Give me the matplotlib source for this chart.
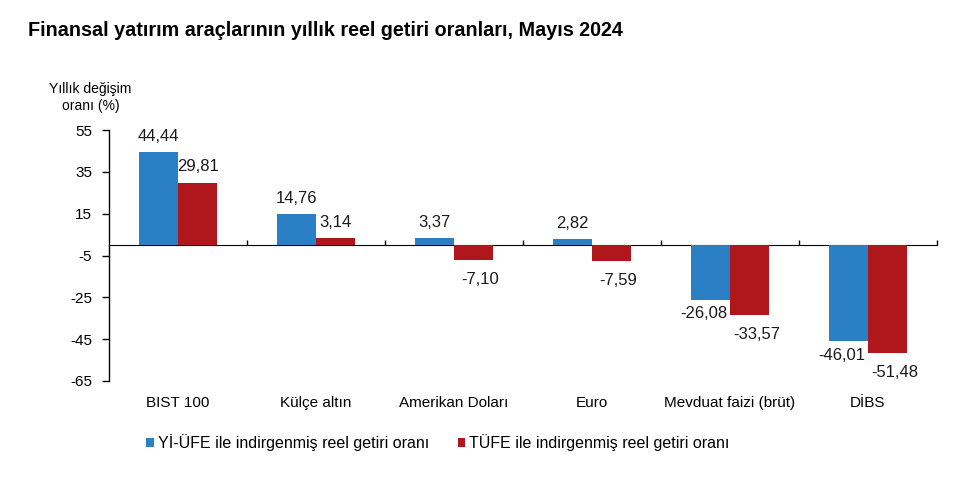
import matplotlib.pyplot as plt
import numpy as np

plt.rcParams['font.family'] = ['Liberation Sans', 'DejaVu Sans']

categories = ['BIST 100', 'Külçe altın', 'Amerikan Doları', 'Euro',
              'Mevduat faizi (brüt)', 'DİBS']
yi_ufe = [44.44, 14.76, 3.37, 2.82, -26.08, -46.01]
tufe = [29.81, 3.14, -7.10, -7.59, -33.57, -51.48]
yticks = [55, 35, 15, -5, -25, -45, -65]

blue = '#2b80c5'
red = '#b0171c'
ymin, ymax = -65, 55

fig = plt.figure(figsize=(9.72, 5.0), dpi=100)
ax = fig.add_axes([0.112, 0.238, 0.852, 0.502])

x = np.arange(len(categories))
w = 0.285
ax.bar(x - w / 2, yi_ufe, w, color=blue, label='Yİ-ÜFE ile indirgenmiş reel getiri oranı')
ax.bar(x + w / 2, tufe, w, color=red, label='TÜFE ile indirgenmiş reel getiri oranı')

def fmt(v):
    return '{:.2f}'.format(v).replace('.', ',')

# value labels: above positive bars, below negative bars (nudged outward)
for side, xs, vals in [(-1, x - w / 2, yi_ufe), (1, x + w / 2, tufe)]:
    for xi, v in zip(xs, vals):
        if v >= 0:
            off = (0, 11.5)
        else:
            off = (side * 5, -10 if side < 0 else -14)
        ax.annotate(fmt(v), (xi, v), xytext=off, textcoords='offset points',
                    ha='center', va='center', fontsize=12, color='#1a1a1a')

ax.set_xlim(-0.5, len(categories) - 0.5)
ax.set_ylim(ymin, ymax)
ax.set_yticks(yticks)
ax.set_yticklabels([str(t) for t in yticks], fontsize=11)
ax.set_xticks(x)
ax.set_xticklabels(categories, fontsize=11)
ax.tick_params(axis='x', length=0, pad=11)
ax.tick_params(axis='y', direction='out', length=5, width=1, pad=7)
for s in ['top', 'right', 'bottom']:
    ax.spines[s].set_visible(False)
ax.spines['left'].set_linewidth(1)

# zero line with small ticks between categories
zero = ax.secondary_xaxis((0 - ymin) / (ymax - ymin))
zero.set_xticks(np.arange(len(categories)) + 0.5)
zero.set_xticklabels([])
zero.tick_params(direction='out', length=3.5, width=1)
zero.spines['bottom'].set_linewidth(1)

fig.text(0.029, 0.94, 'Finansal yatırım araçlarının yıllık reel getiri oranları, Mayıs 2024',
         fontsize=14.2, fontweight='bold', va='center')
fig.text(0.093, 0.805, 'Yıllık değişim\noranı (%)', fontsize=10, ha='center', va='center',
         linespacing=1.25)

ax.legend(loc='upper left', bbox_to_anchor=(0.028, -0.155), ncol=2, frameon=False,
          fontsize=11.5, handlelength=0.45, handleheight=0.45, handletextpad=0.25,
          columnspacing=1.8)

fig.savefig('out.png', dpi=100)
